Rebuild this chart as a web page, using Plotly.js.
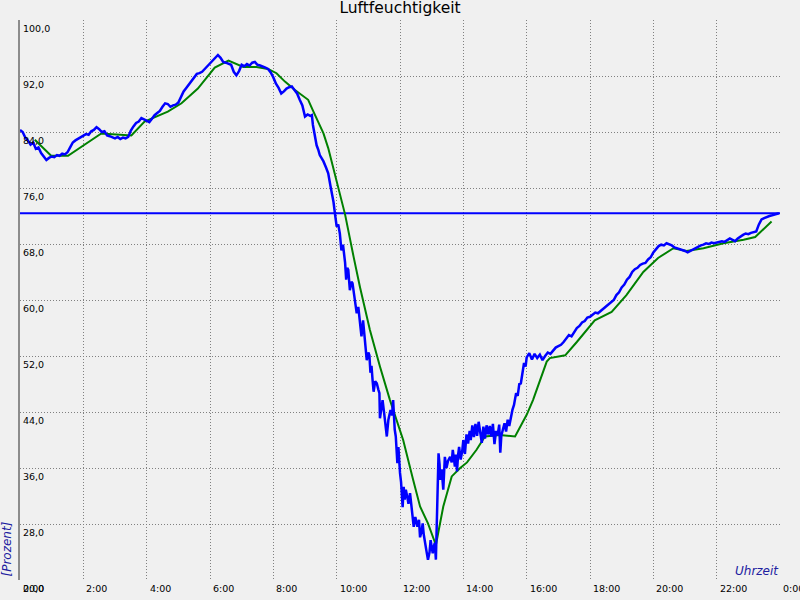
<!DOCTYPE html>
<html>
<head>
<meta charset="utf-8">
<script src="https://cdn.plot.ly/plotly-3.0.1.min.js"></script>
<style>html,body{margin:0;padding:0;background:#f0f0f0;}#chart{width:800px;height:600px;}</style>
</head>
<body>
<div id="chart"></div>
<script>
// Measured humidity (blue), time "H:MM" and percent
const blueTimes = ["0:00","0:05","0:10","0:15","0:20","0:25","0:30","0:35","0:40","0:45","0:50","0:55",
"1:00","1:05","1:10","1:15","1:20","1:25","1:30","1:35","1:40","1:45","1:50","1:55",
"2:00","2:05","2:10","2:15","2:20","2:25","2:30","2:35","2:40","2:45","2:50","2:55",
"3:00","3:05","3:10","3:15","3:20","3:25","3:30","3:35","3:40","3:45","3:50","3:55",
"4:00","4:05","4:10","4:15","4:20","4:25","4:30","4:35","4:40","4:45","4:50","4:55",
"5:00","5:05","5:10","5:15","5:20","5:25","5:30","5:35","5:40","5:45","5:50","5:55",
"6:00","6:05","6:10","6:15","6:20","6:25","6:30","6:35","6:40","6:45","6:50","6:55",
"7:00","7:05","7:10","7:15","7:20","7:25","7:30","7:35","7:40","7:45","7:50","7:55",
"8:00","8:05","8:10","8:15","8:20","8:25","8:30","8:35","8:40","8:45","8:50","8:55",
"9:00","9:05","9:10","9:13","9:15","9:18","9:22","9:25","9:28","9:32","9:35","9:40","9:44","9:48","9:51","9:54","9:57",
"10:00","10:03","10:06","10:09","10:12","10:16","10:18","10:20","10:22","10:25","10:28","10:30","10:33","10:35","10:38","10:41","10:44","10:47","10:50","10:52","10:54","10:57",
"11:00","11:02","11:04","11:06","11:08","11:10","11:13","11:16","11:19","11:21","11:22","11:25","11:27","11:30","11:33","11:35","11:38","11:42","11:45","11:47","11:50","11:52","11:55","11:57",
"12:00","12:02","12:05","12:07","12:09","12:11","12:14","12:16","12:19","12:22","12:26","12:29","12:31","12:33","12:36","12:38","12:41","12:43","12:45","12:47","12:50","12:53","12:56","12:58",
"13:00","13:02","13:04","13:06","13:08","13:10","13:12","13:13","13:15","13:16","13:19","13:22","13:25","13:28","13:31","13:35","13:38","13:40","13:42","13:44","13:46","13:48","13:50","13:52","13:55","13:58",
"14:00","14:03","14:06","14:09","14:12","14:14","14:17","14:20","14:23","14:26","14:29","14:32","14:35","14:38","14:41","14:44","14:47","14:50","14:53","14:56","14:59",
"15:02","15:05","15:08","15:10","15:12","15:15","15:18","15:21","15:24","15:27","15:30","15:33","15:36","15:40","15:43","15:46","15:49","15:52","15:55","15:58",
"16:00","16:05","16:10","16:15","16:20","16:25","16:30","16:35","16:40","16:45","16:50","16:55",
"17:00","17:05","17:10","17:15","17:20","17:25","17:30","17:35","17:40","17:45","17:50","17:55",
"18:00","18:05","18:10","18:15","18:20","18:25","18:30","18:35","18:40","18:45","18:50","18:55",
"19:00","19:05","19:10","19:15","19:20","19:25","19:30","19:35","19:40","19:45","19:50","19:55",
"20:00","20:05","20:10","20:15","20:20","20:25","20:30","20:35","20:40","20:45","20:50","20:55",
"21:00","21:05","21:10","21:15","21:20","21:25","21:30","21:35","21:40","21:45","21:50","21:55",
"22:00","22:05","22:10","22:15","22:20","22:25","22:30","22:35","22:40","22:45","22:50","22:55",
"23:00","23:05","23:10","23:15","23:20","23:25","23:30","23:35","23:40","23:45","23:50","23:55","23:58"];
const blueValues = [84.3,84.0,83.2,82.8,82.2,82.5,81.6,81.8,81.0,80.4,80.0,80.3,
80.5,80.4,80.7,80.6,80.9,80.8,81.1,81.8,82.5,82.8,83.0,83.3,
83.5,83.7,83.6,84.1,84.3,84.7,84.4,84.0,84.1,83.5,83.4,83.3,
83.1,83.3,83.0,83.2,83.1,83.3,84.2,84.8,85.3,85.5,86.0,85.8,
85.6,85.4,85.9,86.4,86.7,87.0,87.6,88.1,88.0,87.6,87.8,87.9,
88.2,89.0,89.8,90.3,90.8,91.3,91.9,92.3,92.4,92.6,93.0,93.4,
93.8,94.1,94.6,95.0,94.6,94.0,93.9,93.8,93.6,92.6,92.1,92.7,
93.6,93.4,93.7,93.5,93.9,94.0,93.6,93.5,93.4,93.2,93.0,92.5,
91.8,90.9,90.3,89.5,89.8,90.2,90.4,90.5,90.0,89.5,88.6,87.8,
86.2,86.5,86.3,86.4,85.0,83.8,82.1,81.5,80.7,80.2,79.8,78.9,78.1,76.4,75.2,74.0,72.2,
70.5,70.8,69.5,67.1,67.9,65.3,62.9,64.6,64.3,61.4,62.6,62.4,61.0,60.0,58.1,59.0,56.7,54.8,57.1,55.5,54.3,51.4,
52.5,52.1,49.6,50.6,48.6,46.9,48.4,48.1,47.2,46.7,43.1,44.6,45.7,43.8,42.0,40.5,42.9,44.3,43.5,45.7,41.5,40.5,36.7,39.0,
35.3,34.0,30.4,33.3,31.5,32.9,31.8,30.9,32.4,30.0,27.6,29.0,28.2,27.6,28.6,26.1,27.0,28.1,26.5,25.3,24.2,22.9,24.0,25.7,
24.5,23.8,24.8,25.3,22.9,29.5,35.0,38.1,36.5,34.3,35.8,32.9,37.6,36.0,37.0,37.6,36.8,38.6,37.4,36.2,37.9,35.5,37.8,39.0,37.2,38.5,
40.0,38.0,40.8,39.5,41.3,40.0,42.1,40.4,42.3,40.6,42.6,41.0,39.6,41.9,40.2,42.1,40.8,42.0,40.5,42.3,39.4,
41.3,40.7,42.2,38.2,40.6,41.5,42.4,41.2,42.9,42.0,43.5,44.3,45.0,46.7,46.3,48.0,48.1,49.6,51.0,50.5,
51.8,52.4,51.5,52.3,51.7,52.2,51.4,52.0,52.5,52.3,52.8,53.2,
53.4,53.6,54.0,54.5,55.0,54.8,55.4,56.0,56.3,56.8,57.0,57.5,
57.6,57.9,58.2,58.1,58.4,58.8,59.1,59.4,59.6,60.0,60.7,61.1,
61.8,62.2,62.9,63.3,64.0,64.4,64.6,65.0,65.2,65.3,65.8,66.1,
66.8,67.2,67.7,67.9,67.8,68.1,68.0,67.8,67.5,67.4,67.2,67.1,
67.0,66.8,67.0,67.2,67.5,67.6,67.8,67.9,68.1,68.0,68.2,68.1,
68.2,68.3,68.4,68.3,68.6,68.8,68.6,68.4,68.8,69.1,69.3,69.5,
69.4,69.6,69.7,69.8,70.8,71.5,71.7,71.9,72.0,72.1,72.2,72.3,72.4];

// Smoothed humidity (green)
const greenTimes = ["0:28","0:59","1:31","2:34","3:31","3:56","4:40","5:06","5:37","5:57","6:09","6:35",
"7:03","7:28","7:50","8:06","8:22","8:41","8:54","9:06","9:16","9:35","9:44","9:57",
"10:09","10:16","10:32","10:44","11:03","11:22","11:41","12:06","12:25","12:38","12:53","13:08",
"13:22","13:38","13:54","14:07","14:25","14:41","15:09","15:38","16:00","16:12","16:38","16:44",
"17:13","17:35","18:09","18:41","19:09","19:41","20:09","20:38","21:03","21:35","22:13","22:51",
"23:13","23:28","23:44"];
const greenValues = [82.9,80.6,80.6,83.8,83.5,85.5,86.9,88.1,90.2,92.1,93.2,94.2,
93.3,93.3,93.0,92.4,91.2,90.0,89.3,88.6,86.9,83.8,81.7,77.9,
74.0,72.2,66.2,61.9,55.7,50.5,45.7,40.0,34.3,30.5,28.1,25.0,
30.5,34.8,36.0,36.8,38.6,40.5,40.7,40.5,43.6,45.7,51.2,51.7,
52.1,54.0,57.1,58.3,60.7,64.0,66.0,67.4,67.0,67.4,68.1,68.6,
69.0,70.0,71.2];

// Reference level (horizontal blue line)
const limitValue = 72.4;

// Axis ticks
const xTickVals = [0,2,4,6,8,10,12,14,16,18,20,22,24];
const xTickLabels = ["0:00","2:00","4:00","6:00","8:00","10:00","12:00","14:00","16:00","18:00","20:00","22:00","0:00"];
const yTickVals = [20,28,36,44,52,60,68,76,84,92,100];
const yTickLabels = ["20,0","28,0","36,0","44,0","52,0","60,0","68,0","76,0","84,0","92,0","100,0"];

function toHours(s){ const p = s.split(":"); return Number(p[0]) + Number(p[1])/60; }

const tickFont = {family: "DejaVu Sans", size: 9.5, color: "#000000"};
const annotations = [];
yTickVals.forEach((v,i) => annotations.push({xref:"paper", yref:"y", x:0, y:v, xanchor:"left", yanchor:"top",
  xshift:1, yshift:-1, text:yTickLabels[i], showarrow:false, font:tickFont}));
xTickVals.forEach((v,i) => annotations.push({xref:"x", yref:"paper", x:v, y:0, xanchor:"left", yanchor:"top",
  xshift:1, yshift:-1, text:xTickLabels[i], showarrow:false, font:tickFont}));
annotations.push({xref:"paper", yref:"paper", x:0, y:0, xanchor:"right", yanchor:"bottom", xshift:-5, yshift:1,
  text:"[Prozent]", textangle:-90, showarrow:false, font:{family:"DejaVu Sans", size:12, color:"#2020a0", style:"italic"}});
annotations.push({xref:"paper", yref:"paper", x:1, y:0, xanchor:"right", yanchor:"bottom", xshift:1, yshift:0,
  text:"Uhrzeit", showarrow:false, font:{family:"DejaVu Sans", size:12, color:"#2020a0", style:"italic"}});

const traces = [
  {x:[0,24], y:[limitValue,limitValue], mode:"lines", line:{color:"#0000ff", width:2}, hoverinfo:"skip"},
  {x:greenTimes.map(toHours), y:greenValues, mode:"lines", line:{color:"#008000", width:2}},
  {x:blueTimes.map(toHours), y:blueValues, mode:"lines", line:{color:"#0000ff", width:2.5}}
];

const layout = {
  width:800, height:600,
  margin:{l:20, r:20, t:20, b:20, pad:0},
  paper_bgcolor:"#f0f0f0", plot_bgcolor:"#f0f0f0",
  showlegend:false,
  title:{text:"Luftfeuchtigkeit", x:0.5, xanchor:"center", yref:"container", y:1-8/600, yanchor:"middle",
    font:{family:"DejaVu Sans", size:15.5, color:"#000000"}},
  xaxis:{range:[0,24], tickvals:xTickVals, showticklabels:false, ticks:"", showgrid:true,
    gridcolor:"#808080", griddash:"1px,2px", gridwidth:1, zeroline:false, showline:false, fixedrange:true},
  yaxis:{range:[20,100], tickvals:yTickVals, showticklabels:false, ticks:"", showgrid:true,
    gridcolor:"#808080", griddash:"1px,2px", gridwidth:1, zeroline:false, showline:true, linecolor:"#8c8c8c", linewidth:2, fixedrange:true},
  annotations:annotations
};

Plotly.newPlot("chart", traces, layout, {displayModeBar:false, staticPlot:true});
</script>
</body>
</html>
